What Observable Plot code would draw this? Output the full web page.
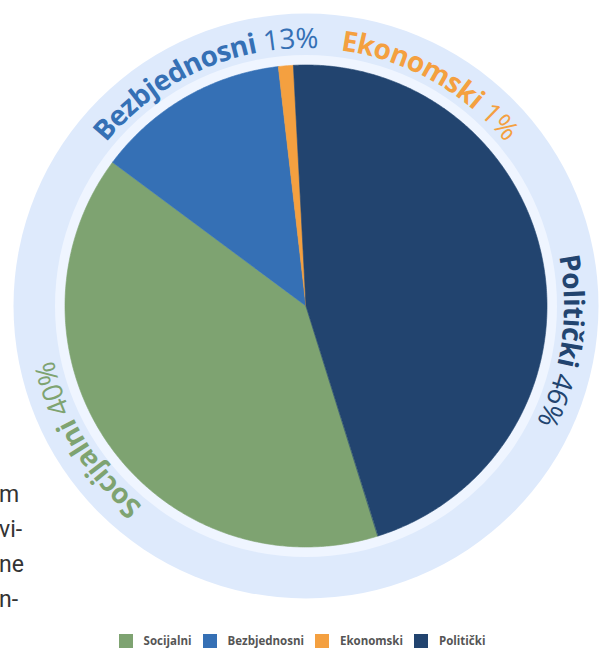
<!DOCTYPE html>
<html><head><meta charset="utf-8">
<script src="https://cdn.jsdelivr.net/npm/d3@7"></script>
<script src="https://cdn.jsdelivr.net/npm/@observablehq/plot@0.6"></script>
<style>
html,body{margin:0;padding:0;background:#fff;}
body{width:604px;height:648px;overflow:hidden;position:relative;}
#chart{position:absolute;left:0;top:0;}
#side{position:absolute;left:-1px;top:477px;font:23px/35px Roboto,"Open Sans",sans-serif;color:#333;}
#legend{position:absolute;left:0;top:633px;width:604px;display:flex;justify-content:center;}
#legend .lg-swatches{justify-content:center;margin:0 !important;min-height:0 !important;}
#legend .lg-swatch{margin-right:11px !important;}
#legend .lg-swatch:last-child{margin-right:0 !important;}
#legend .lg-swatch > svg{margin-right:11px !important;}
</style></head><body>
<div id="side">m<br>vi-<br>ne<br>n-</div>
<div id="chart"></div>
<div id="legend"></div>
<script>
// ---- data ----
const categories = ["Socijalni", "Bezbjednosni", "Ekonomski", "Politički"];
const shares = [40, 13, 1, 46];
const pctLabels = ["40%", "13%", "1%", "46%"];
const colors = ["#7ea371", "#3570b5", "#f4a040", "#22446f"];

// ---- layout ----
const W = 604, H = 630;
const cx = 305.5, cy = 305.5;
const rPie = 241, rBand = 251, rRing = 292.5, rText = 267;
const startDeg = -3;
const labelNudgeDeg = {"Socijalni": 4, "Bezbjednosni": 6, "Ekonomski": 34, "Politički": 18};
const nameFont = "700 28px 'Open Sans'";
const pctFont = "400 28px 'Open Sans'";
const rad = d => d * Math.PI / 180;

const table = categories.map((c, i) => ({cat: c, value: shares[i], pct: pctLabels[i]}));
const arcs = d3.pie().value(d => d.value).startAngle(rad(startDeg)).endAngle(rad(startDeg + 360))(table);

// slice polygons
const slicePts = [];
for (const a of arcs) {
  const n = Math.max(2, Math.ceil((a.endAngle - a.startAngle) / rad(0.5)));
  slicePts.push({cat: a.data.cat, x: 0, y: 0});
  for (let k = 0; k <= n; k++) {
    const t = a.startAngle + (a.endAngle - a.startAngle) * k / n;
    slicePts.push({cat: a.data.cat, x: rPie * Math.sin(t), y: -rPie * Math.cos(t)});
  }
}

// curved labels, one glyph at a time
const ctx = document.createElement("canvas").getContext("2d");
const glyphs = [];
for (const a of arcs) {
  const parts = [];
  for (const ch of a.data.cat) parts.push({ch, bold: true});
  parts.push({ch: " ", bold: false});
  for (const ch of a.data.pct) parts.push({ch, bold: false});
  for (const p of parts) { ctx.font = p.bold ? nameFont : pctFont; p.w = ctx.measureText(p.ch).width; }
  const total = d3.sum(parts, p => p.w);
  const mid = (a.startAngle + a.endAngle) / 2 + rad(labelNudgeDeg[a.data.cat] || 0);
  let s = mid - total / 2 / rText;
  let acc = 0;
  for (const p of parts) {
    const t = s + (acc + p.w / 2) / rText;
    acc += p.w;
    if (p.ch === " ") continue;
    glyphs.push({cat: a.data.cat, ch: p.ch, bold: p.bold, x: rText * Math.sin(t), y: -rText * Math.cos(t), rot: t * 180 / Math.PI});
  }
}

const chart = Plot.plot({
  width: W, height: H, margin: 0,
  x: {domain: [-cx, W - cx], range: [0, W], axis: null},
  y: {domain: [-cy, H - cy], range: [0, H], axis: null},
  color: {domain: categories, range: colors},
  style: {background: "transparent", overflow: "visible"},
  marks: [
    Plot.dot([{x: 0, y: 0}], {x: "x", y: "y", r: rRing, fill: "#deeafc", stroke: "none"}),
    Plot.dot([{x: 0, y: 0}], {x: "x", y: "y", r: rBand, fill: "#eff5ff", stroke: "none"}),
    Plot.line(slicePts, {x: "x", y: "y", z: "cat", fill: "cat", stroke: "cat", strokeWidth: 0.6, curve: "linear-closed"}),
    Plot.text(glyphs.filter(g => g.bold), {x: "x", y: "y", text: "ch", rotate: "rot", fill: "cat", fontSize: 28, fontWeight: 700, fontFamily: "Open Sans", textAnchor: "middle", lineAnchor: "middle"}),
    Plot.text(glyphs.filter(g => !g.bold), {x: "x", y: "y", text: "ch", rotate: "rot", fill: "cat", fontSize: 28, fontWeight: 400, fontFamily: "Open Sans", textAnchor: "middle", lineAnchor: "middle"})
  ]
});
document.getElementById("chart").append(chart);

const legend = Plot.legend({
  color: {domain: categories, range: colors},
  swatchSize: 14,
  className: "lg",
  style: {fontSize: "11.5px", fontWeight: 700, color: "#555", fontFamily: "'Open Sans'", background: "transparent"}
});
document.getElementById("legend").append(legend);
</script>
</body></html>
